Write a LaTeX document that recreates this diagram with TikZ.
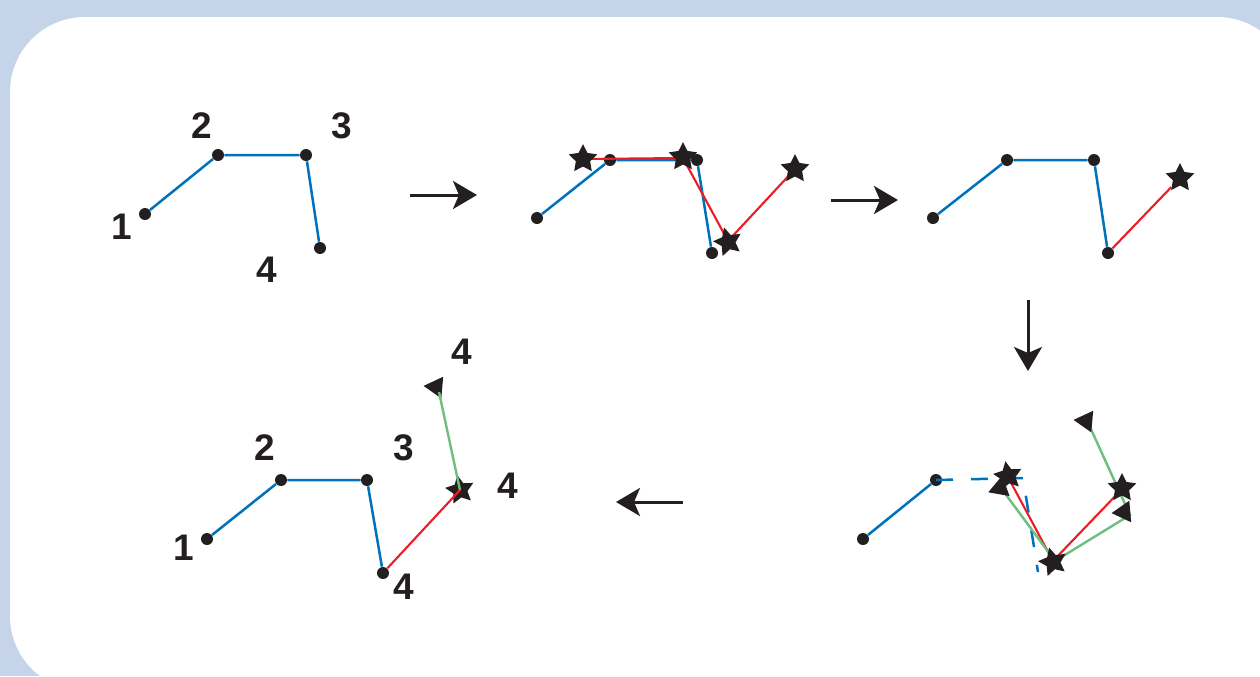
\documentclass[tikz,border=0pt]{standalone}
\usepackage{fontspec}
\setmainfont{Liberation Sans}
\usetikzlibrary{arrows.meta, shapes.geometric}
\definecolor{panelbg}{RGB}{197,212,232}
\definecolor{lineblue}{RGB}{0,114,188}
\definecolor{linered}{RGB}{237,28,36}
\definecolor{linegreen}{RGB}{109,190,127}
\definecolor{dotblack}{RGB}{35,31,32}

\begin{document}
\begin{tikzpicture}[
    x=0.5pt, y=-0.5pt,
    dot/.style={circle, fill=dotblack, inner sep=0pt, minimum size=6pt},
    staricon/.style={star, star points=5, star point ratio=2, fill=dotblack, inner sep=0pt, minimum size=15pt},
    tri/.style={regular polygon, regular polygon sides=3, shape border rotate=90, fill=dotblack, inner sep=0pt, minimum size=12.5pt},
    lbl/.style={inner sep=0pt, font=\fontsize{18.5}{20}\selectfont\bfseries, text=dotblack},
    bluelink/.style={draw=lineblue, line width=1.25pt},
    redlink/.style={draw=linered, line width=1.05pt},
    greenlink/.style={draw=linegreen, line width=1.2pt},
    steparrow/.style={-{Stealth[length=12pt, width=14pt, inset=3pt]}, line width=1.5pt, draw=dotblack}
]
\useasboundingbox (0,0) rectangle (1260,676);
\fill[panelbg] (0,0) rectangle (1260,676);
\fill[white, rounded corners=37.5pt] (10,17) rectangle (1292,691);

% first chain
\node (p1_a) [dot] at (145,214) {};
\node (p1_b) [dot] at (218,155) {};
\node (p1_c) [dot] at (306,155) {};
\node (p1_d) [dot] at (320,248) {};
\node (p1_lbl_a) [lbl] at (122,227) {1};
\node (p1_lbl_b) [lbl] at (202,126) {2};
\node (p1_lbl_c) [lbl] at (342,126) {3};
\node (p1_lbl_d) [lbl] at (267,270) {4};
\draw[bluelink] (p1_a) -- (p1_b) -- (p1_c) -- (p1_d);

% second chain with the stars
\node (p2_a) [dot] at (537,218) {};
\node (p2_b) [dot] at (610,160) {};
\node (p2_c) [dot] at (697,160) {};
\node (p2_d) [dot] at (712,253) {};
\draw[bluelink] (p2_a) -- (p2_b) -- (p2_c) -- (p2_d);
\draw[redlink] (583,159) -- (683,158) -- (728,241) -- (795,169);
\node (p2_s1) [staricon] at (583,159) {};
\node (p2_s2) [staricon] at (683,157) {};
\node (p2_s3) [staricon, rotate=15] at (728,242) {};
\node (p2_s4) [staricon] at (795,169) {};

% third chain
\node (p3_a) [dot] at (933,218) {};
\node (p3_b) [dot] at (1007,160) {};
\node (p3_c) [dot] at (1094,160) {};
\node (p3_d) [dot] at (1108,253) {};
\node (p3_s) [staricon] at (1180,178) {};
\draw[bluelink] (p3_a) -- (p3_b) -- (p3_c) -- (p3_d);
\draw[redlink] (p3_d) -- (p3_s);

% fourth chain
\node (p4_a) [dot] at (863,539) {};
\node (p4_b) [dot] at (936,480) {};
\coordinate (p4_bend) at (1023,478);
\coordinate (p4_end) at (1038,572);
\draw[bluelink] (p4_a) -- (p4_b);
\draw[bluelink, dash pattern=on 8.5pt off 9pt] (p4_b.center) -- (p4_bend) -- (p4_end);
\draw[redlink] (1008,477) -- (1053,561) -- (1122,489);
\draw[greenlink] (998,484) -- (1055,561) -- (1130,515) -- (1090,427);
\node (p4_s1) [staricon, rotate=10] at (1008,476) {};
\node (p4_s2) [staricon, rotate=15] at (1053,562) {};
\node (p4_s3) [staricon] at (1122,488) {};
\node (p4_t1) [tri, rotate=20] at (1000,488) {};
\node (p4_t2) [tri, rotate=-5] at (1086,421) {};
\node (p4_t3) [tri, rotate=5] at (1124,512) {};

% fifth chain
\node (p5_a) [dot] at (207,539) {};
\node (p5_b) [dot] at (281,480) {};
\node (p5_c) [dot] at (367,480) {};
\node (p5_d) [dot] at (383,573) {};
\node (p5_s) [staricon, rotate=10] at (460,490) {};
\node (p5_t) [tri, rotate=-5] at (436,387) {};
\draw[bluelink] (p5_a) -- (p5_b) -- (p5_c) -- (p5_d);
\draw[redlink] (p5_d) -- (p5_s.center);
\draw[greenlink] (p5_s.center) -- (439,392);
\node (p5_lbl_a) [lbl] at (184,548) {1};
\node (p5_lbl_b) [lbl] at (265,448) {2};
\node (p5_lbl_c) [lbl] at (404,448) {3};
\node (p5_lbl_top) [lbl] at (462,352) {4};
\node (p5_lbl_right) [lbl] at (508,486) {4};
\node (p5_lbl_bottom) [lbl] at (404,587) {4};

% arrows between the steps
\coordinate (go_1_from) at (410,195);
\coordinate (go_1_to) at (477,195);
\coordinate (go_2_from) at (831,200);
\coordinate (go_2_to) at (898,200);
\coordinate (go_3_from) at (1028,300);
\coordinate (go_3_to) at (1028,371);
\coordinate (go_4_from) at (683,502);
\coordinate (go_4_to) at (616,502);
\draw[steparrow] (go_1_from) -- (go_1_to);
\draw[steparrow] (go_2_from) -- (go_2_to);
\draw[steparrow] (go_3_from) -- (go_3_to);
\draw[steparrow] (go_4_from) -- (go_4_to);
\end{tikzpicture}
\end{document}
